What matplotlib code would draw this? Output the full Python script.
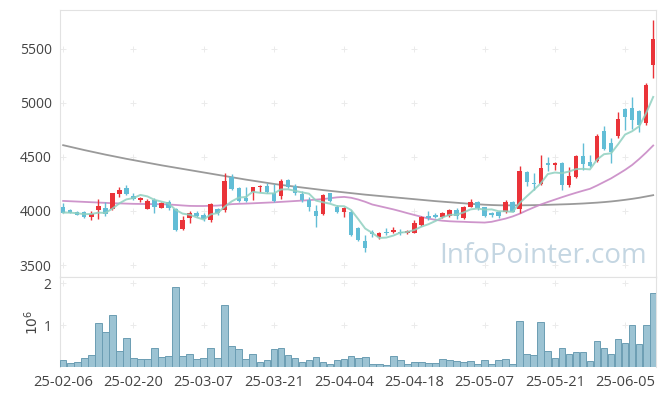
import numpy as np
import matplotlib
matplotlib.use("Agg")
import matplotlib.pyplot as plt

# ---------------- data ----------------
tick_labels = ["25-02-06", "25-02-20", "25-03-07", "25-03-21", "25-04-04",
               "25-04-18", "25-05-07", "25-05-21", "25-06-05"]

opens = [4034, 4009, 3994, 3995, 3948, 4009, 4025, 4016, 4157, 4209,
         4141, 4101, 4021, 4101, 4030, 4080, 4018, 3834, 3938, 3985,
         3963, 3917, 4016, 4009, 4311, 4209, 4123, 4175, 4218, 4230,
         4169, 4141, 4286, 4233, 4157, 4101, 4003, 3969, 4163, 4040,
         3991, 3994, 3846, 3726, 3809, 3757, 3809, 3809, 3809, 3794,
         3800, 3871, 3954, 3963, 3942, 3954, 4009, 3932, 4040, 4086,
         4034, 3985, 3994, 3988, 4086, 4015, 4363, 4261, 4249, 4440,
         4424, 4446, 4240, 4316, 4507, 4449, 4464, 4738, 4624, 4692,
         4943, 4947, 4922, 4809, 5353]
highs = [4077, 4020, 4000, 3997, 3997, 4108, 4080, 4169, 4224, 4240,
         4163, 4132, 4108, 4117, 4080, 4101, 4030, 3957, 4000, 3997,
         3978, 4071, 4030, 4348, 4341, 4224, 4224, 4224, 4240, 4255,
         4249, 4292, 4292, 4249, 4187, 4132, 4055, 4154, 4169, 4055,
         4040, 4009, 3855, 3779, 3825, 3809, 3840, 3855, 3831, 3825,
         3917, 3954, 4003, 3978, 3994, 4018, 4025, 4046, 4108, 4095,
         4040, 3994, 4003, 4101, 4092, 4418, 4369, 4348, 4516, 4495,
         4455, 4455, 4403, 4516, 4624, 4516, 4710, 4784, 4676, 4910,
         4952, 5054, 4937, 5178, 5767]
lows = [3980, 3980, 3960, 3933, 3920, 3923, 3957, 4010, 4132, 4145,
        4101, 4086, 4016, 3985, 4028, 4009, 3818, 3825, 3886, 3942,
        3908, 3901, 3963, 3994, 4194, 4086, 4086, 4101, 4178, 4163,
        4086, 4108, 4209, 4148, 4086, 4003, 3855, 3963, 4086, 3978,
        3948, 3772, 3726, 3625, 3763, 3739, 3779, 3794, 3779, 3788,
        3794, 3862, 3917, 3932, 3932, 3942, 3923, 3923, 4034, 4009,
        3948, 3948, 3932, 3978, 3988, 3985, 4230, 4194, 4240, 4369,
        4378, 4194, 4224, 4307, 4378, 4408, 4455, 4562, 4445, 4676,
        4747, 4762, 4726, 4793, 5233]
closes = [3985, 3985, 3966, 3948, 3975, 4049, 3972, 4163, 4194, 4157,
          4111, 4117, 4095, 4034, 4077, 4025, 3825, 3917, 3985, 3954,
          3923, 4065, 3978, 4279, 4200, 4095, 4095, 4218, 4233, 4172,
          4095, 4277, 4224, 4163, 4101, 4034, 3957, 4148, 4095, 3991,
          4030, 3779, 3733, 3656, 3788, 3800, 3794, 3825, 3794, 3816,
          3892, 3948, 3938, 3942, 3985, 4009, 3954, 4040, 4086, 4025,
          3957, 3966, 3954, 4086, 3994, 4372, 4270, 4249, 4394, 4421,
          4443, 4240, 4323, 4507, 4433, 4418, 4692, 4574, 4547, 4848,
          4870, 4845, 4799, 5162, 5592]
volumes = [0.17, 0.10, 0.12, 0.21, 0.29, 1.05, 0.84, 1.24, 0.37, 0.69,
           0.21, 0.19, 0.19, 0.45, 0.24, 0.26, 1.90, 0.26, 0.31, 0.19,
           0.21, 0.45, 0.21, 1.48, 0.50, 0.43, 0.19, 0.31, 0.12, 0.17,
           0.43, 0.45, 0.29, 0.21, 0.12, 0.17, 0.24, 0.12, 0.08, 0.17,
           0.19, 0.26, 0.21, 0.24, 0.07, 0.07, 0.05, 0.26, 0.17, 0.07,
           0.12, 0.12, 0.10, 0.10, 0.19, 0.17, 0.14, 0.12, 0.14, 0.07,
           0.17, 0.07, 0.17, 0.19, 0.07, 1.10, 0.31, 0.29, 1.07, 0.38,
           0.21, 0.45, 0.31, 0.36, 0.36, 0.14, 0.62, 0.45, 0.31, 0.67,
           0.57, 1.00, 0.55, 1.00, 1.76]  # millions of shares

ma_mid = [4093, 4090, 4087, 4084, 4081, 4078, 4075, 4072, 4070, 4068,
          4066, 4065, 4064, 4063, 4062, 4060, 4056, 4051, 4047, 4046,
          4046, 4048, 4050, 4056, 4063, 4066, 4068, 4071, 4074, 4077,
          4080, 4084, 4088, 4092, 4096, 4100, 4105, 4110, 4118, 4126,
          4130, 4122, 4106, 4085, 4060, 4045, 4030, 4015, 3998, 3980,
          3963, 3946, 3930, 3918, 3910, 3905, 3902, 3900, 3897, 3895,
          3893, 3900, 3915, 3930, 3950, 3975, 4005, 4033, 4060, 4083,
          4105, 4127, 4148, 4168, 4187, 4205, 4235, 4268, 4301, 4340,
          4380, 4425, 4480, 4540, 4605]
ma_long = [4608, 4593, 4578, 4563, 4549, 4535, 4521, 4508, 4495, 4482,
           4470, 4458, 4446, 4434, 4422, 4411, 4400, 4389, 4378, 4367,
           4356, 4345, 4334, 4323, 4312, 4301, 4290, 4280, 4270, 4260,
           4250, 4241, 4233, 4225, 4217, 4209, 4201, 4193, 4186, 4179,
           4172, 4165, 4158, 4151, 4145, 4139, 4133, 4127, 4121, 4115,
           4109, 4103, 4097, 4091, 4086, 4081, 4076, 4071, 4066, 4062,
           4058, 4055, 4053, 4052, 4052, 4052, 4053, 4054, 4055, 4057,
           4059, 4061, 4063, 4066, 4069, 4073, 4077, 4082, 4088, 4095,
           4103, 4112, 4122, 4134, 4146]

# ---------------- styling ----------------
UP = "#ea3339"
DOWN = "#62bdd6"
GRID_C = "#ebebeb"
TXT = "#444444"
plt.rcParams['font.family'] = ['Open Sans', 'DejaVu Sans']

n = len(closes)
x = np.arange(n)
o = np.array(opens, float); c = np.array(closes, float)
h = np.array(highs, float); l = np.array(lows, float)
ma5 = np.array([np.mean(c[max(0, i - 4):i + 1]) for i in range(n)])

fig = plt.figure(figsize=(6.65, 3.96), dpi=100)
W, H = 665, 396
L, R = 60, 656
ax = fig.add_axes([L / W, 1 - 277 / H, (R - L) / W, (277 - 10) / H])
axv = fig.add_axes([L / W, 1 - 367 / H, (R - L) / W, (367 - 277) / H], sharex=ax)

up = c >= o
colors = np.where(up, UP, DOWN)
bottoms = np.minimum(o, c)
heights = np.maximum(np.abs(c - o), 6)
ax.vlines(x, l, h, colors=colors, linewidth=1.0, zorder=3)
ax.bar(x, heights, bottom=bottoms, width=0.64, color=colors, linewidth=0, zorder=4)

ax.plot(x, ma_long, color="#8f8f8f", lw=1.3, alpha=0.9, zorder=2)
ax.plot(x, ma_mid, color="#c98ac6", lw=1.3, alpha=0.9, zorder=2)
ax.plot(x, ma5, color="#8fd0c0", lw=1.4, alpha=0.85, zorder=5)

ax.set_ylim(3390, 5857)
ax.set_xlim(-0.45, 84.4)
yt = [3500, 4000, 4500, 5000, 5500]
ax.set_yticks(yt)
ax.set_yticklabels([str(v) for v in yt])
xt = np.arange(0, 81, 10)
ax.set_xticks(xt)
ax.tick_params(axis='x', labelbottom=False, length=0)
ax.tick_params(axis='y', length=0, labelsize=10, colors=TXT, pad=6)
gx, gy = np.meshgrid(xt, yt)
ax.scatter(gx.ravel(), gy.ravel(), marker='+', s=14, color=GRID_C, lw=0.7, zorder=1)
for s in ['left', 'top', 'right', 'bottom']:
    ax.spines[s].set_color("#e2e2e2")
ax.text(0.985, 0.078, "InfoPointer.com", transform=ax.transAxes, ha='right',
        va='center', fontsize=20, color="#c4d6e2", zorder=6)

# volume
axv.bar(x, np.array(volumes) * 1e6, width=0.95, color="#9cc3d3",
        edgecolor="#6b9db3", linewidth=0.7, zorder=3)
axv.set_ylim(0, 2.143e6)
axv.set_yticks([1e6, 2e6])
axv.set_yticklabels(["1", "2"])
axv.set_xticks(xt)
axv.set_xticklabels(tick_labels)
axv.tick_params(axis='x', length=0, labelsize=10.5, colors=TXT, pad=6)
axv.tick_params(axis='y', length=0, labelsize=10, colors=TXT, pad=6)
vx, vy = np.meshgrid(xt, [1e6, 2e6])
axv.scatter(vx.ravel(), vy.ravel(), marker='+', s=14, color=GRID_C, lw=0.7, zorder=1)
axv.set_ylabel(r"$10^6$", color=TXT, fontsize=10, labelpad=1)
for s in ['left', 'top', 'right']:
    axv.spines[s].set_color("#e2e2e2")
axv.spines['bottom'].set_visible(False)
axv.set_xlim(-0.45, 84.4)

fig.savefig("out.png", dpi=100, facecolor="white")
